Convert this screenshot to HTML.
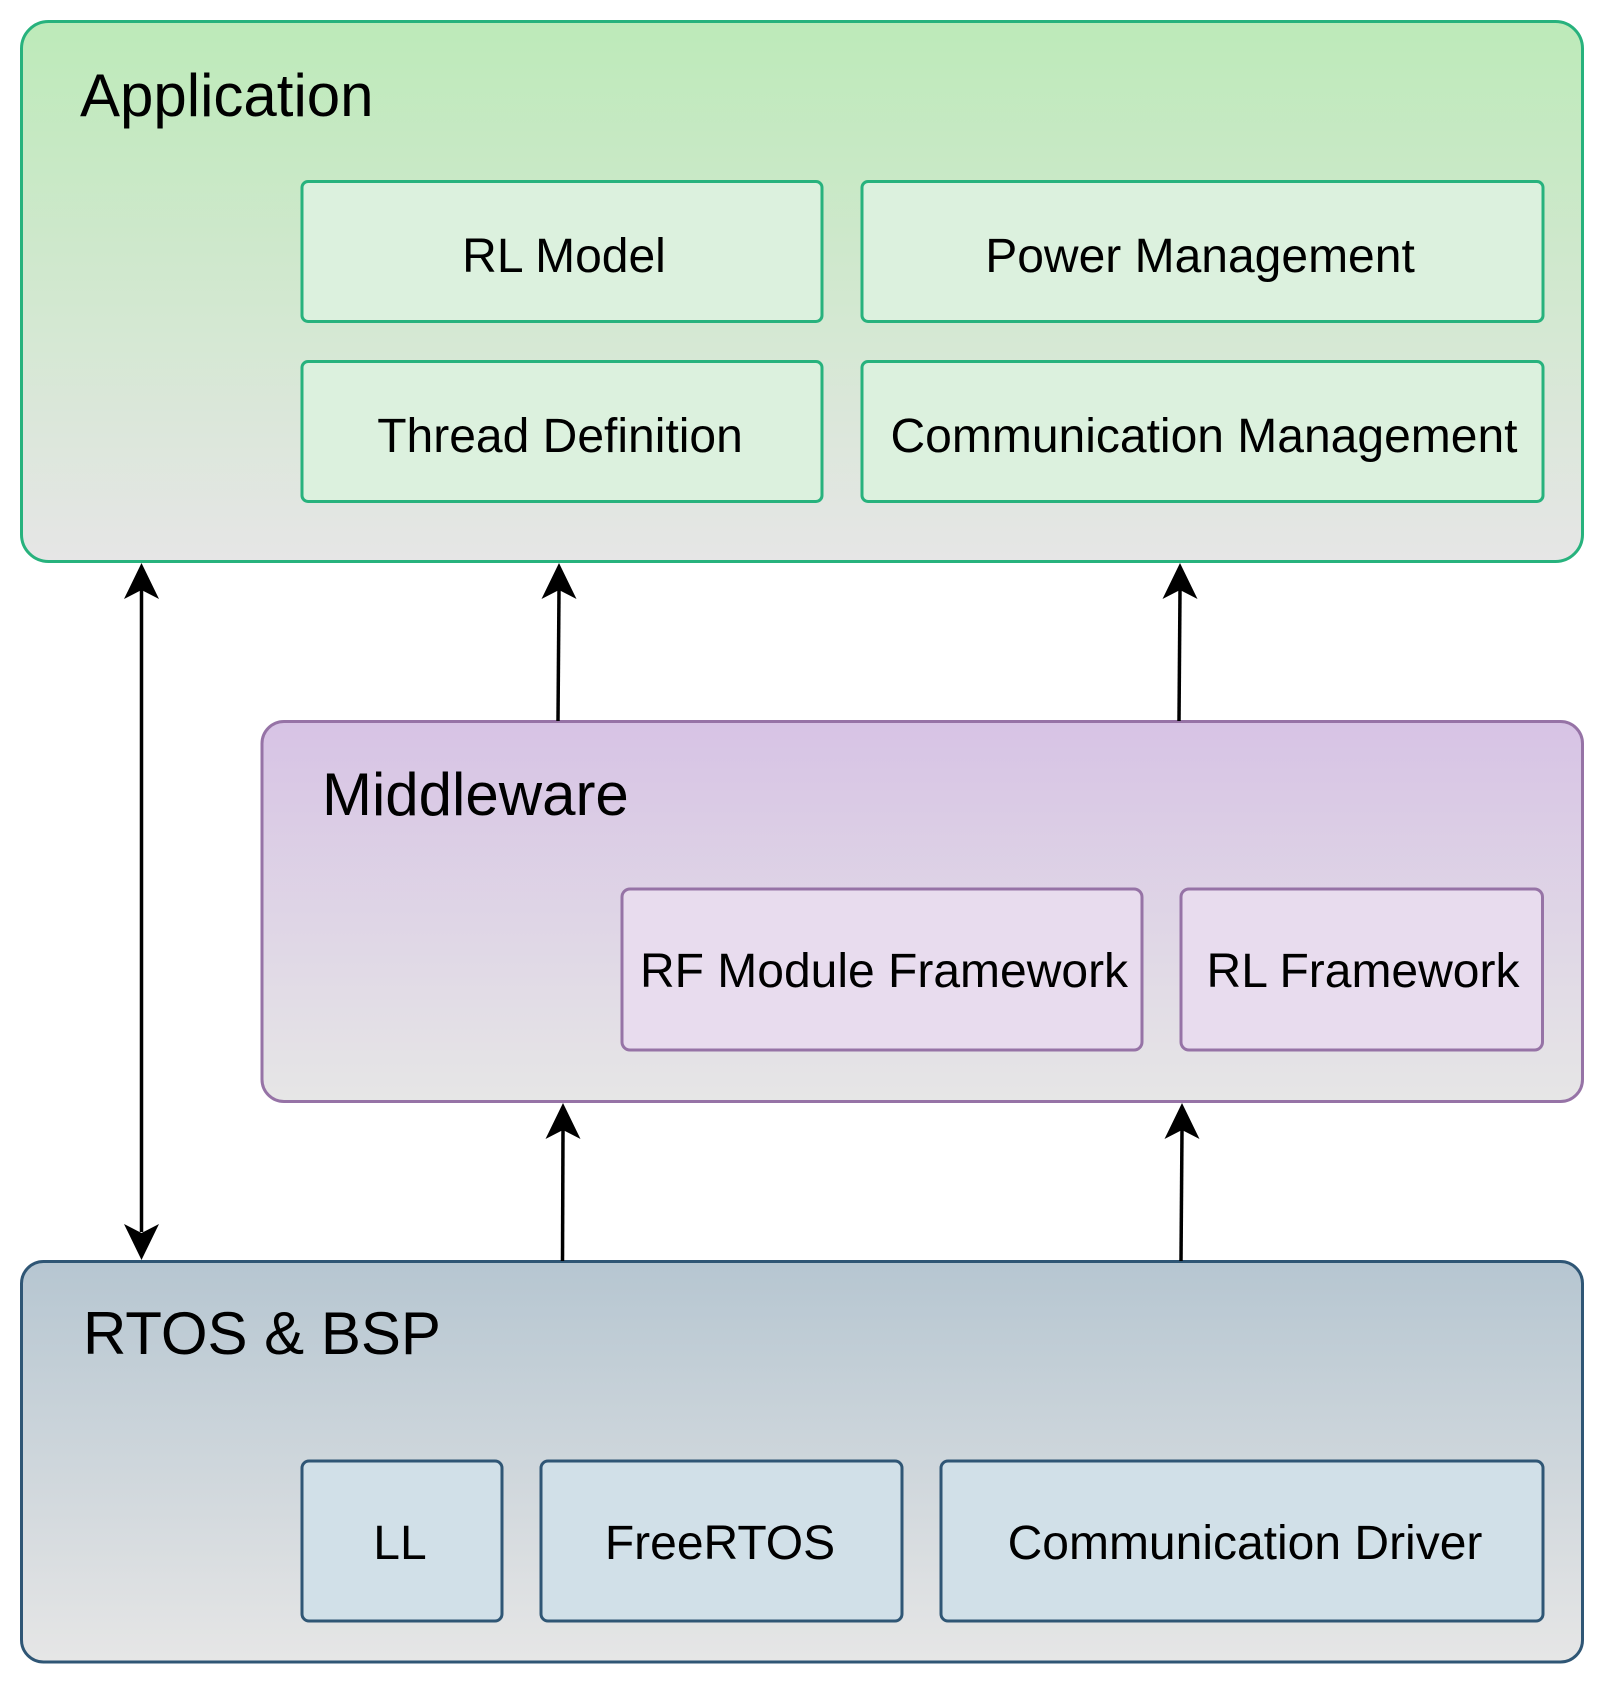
<!DOCTYPE html>
<html><head><meta charset="utf-8"><style>html,body{margin:0;padding:0;background:#fff;}svg{display:block}</style></head>
<body>
<svg width="1604" height="1684" viewBox="0 0 1604 1684" xmlns="http://www.w3.org/2000/svg" font-family="Liberation Sans, Arial, sans-serif">
<defs>
<linearGradient id="ga" x1="0" y1="0" x2="0" y2="1"><stop offset="0" stop-color="#bdeab9"/><stop offset="1" stop-color="#e6e6e6"/></linearGradient>
<linearGradient id="gm" x1="0" y1="0" x2="0" y2="1"><stop offset="0" stop-color="#d7c3e5"/><stop offset="1" stop-color="#e6e6e6"/></linearGradient>
<linearGradient id="gr" x1="0" y1="0" x2="0" y2="1"><stop offset="0" stop-color="#b6c6d1"/><stop offset="1" stop-color="#e6e6e6"/></linearGradient>
</defs>
<rect x="21.5" y="21.5" width="1561" height="540" rx="27" fill="url(#ga)" stroke="#27b27d" stroke-width="3"/>
<text x="80" y="116" font-size="60" fill="#000">Application</text>
<g fill="#dcf1de" stroke="#27b27d" stroke-width="3">
<rect x="302" y="181.5" width="520" height="140" rx="6"/>
<rect x="862" y="181.5" width="681" height="140" rx="6"/>
<rect x="302" y="361.5" width="520" height="140" rx="6"/>
<rect x="862" y="361.5" width="681" height="140" rx="6"/>
</g>
<g font-size="48" text-anchor="middle" fill="#000">
<text x="564" y="272">RL Model</text>
<text x="1200" y="272">Power Management</text>
<text x="560" y="452">Thread Definition</text>
<text x="1204" y="452">Communication Management</text>
</g>
<rect x="262" y="721.5" width="1320.5" height="380" rx="22" fill="url(#gm)" stroke="#9673a6" stroke-width="3"/>
<text x="322" y="815" font-size="60" fill="#000">Middleware</text>
<g fill="#e8dcee" stroke="#9673a6" stroke-width="3">
<rect x="622" y="889" width="520" height="161" rx="8"/>
<rect x="1181" y="889" width="361.5" height="161" rx="8"/>
</g>
<g font-size="48" text-anchor="middle" fill="#000">
<text x="884" y="987">RF Module Framework</text>
<text x="1363" y="987">RL Framework</text>
</g>
<rect x="21.5" y="1261.5" width="1561" height="400.5" rx="22" fill="url(#gr)" stroke="#2f5675" stroke-width="3"/>
<text x="83" y="1354" font-size="60" fill="#000">RTOS &amp; BSP</text>
<g fill="#d1e0e8" stroke="#2f5675" stroke-width="3">
<rect x="302" y="1461" width="200" height="160" rx="7"/>
<rect x="541" y="1461" width="361" height="160" rx="7"/>
<rect x="941" y="1461" width="602" height="160" rx="7"/>
</g>
<g font-size="48" text-anchor="middle" fill="#000">
<text x="400" y="1559">LL</text>
<text x="720" y="1559">FreeRTOS</text>
<text x="1245" y="1559">Communication Driver</text>
</g>
<g stroke="#000" stroke-width="3.5">
<line x1="141.5" y1="590" x2="141.5" y2="1232"/>
<line x1="558" y1="721" x2="559" y2="590"/>
<line x1="1179" y1="721" x2="1180" y2="590"/>
<line x1="562.5" y1="1261" x2="563" y2="1130"/>
<line x1="1181" y1="1261" x2="1182" y2="1130"/>
</g>
<g fill="#000">
<path d="M141.5 563 L159 599 L141.5 590 L124 599 Z"/>
<path d="M141.5 1260 L159 1224 L141.5 1233 L124 1224 Z"/>
<path d="M559 563 L576.5 599 L559 590 L541.5 599 Z"/>
<path d="M1180 563 L1197.5 599 L1180 590 L1162.5 599 Z"/>
<path d="M563 1103 L580.5 1139 L563 1130 L545.5 1139 Z"/>
<path d="M1182 1103 L1199.5 1139 L1182 1130 L1164.5 1139 Z"/>
</g>
</svg>
</body></html>
